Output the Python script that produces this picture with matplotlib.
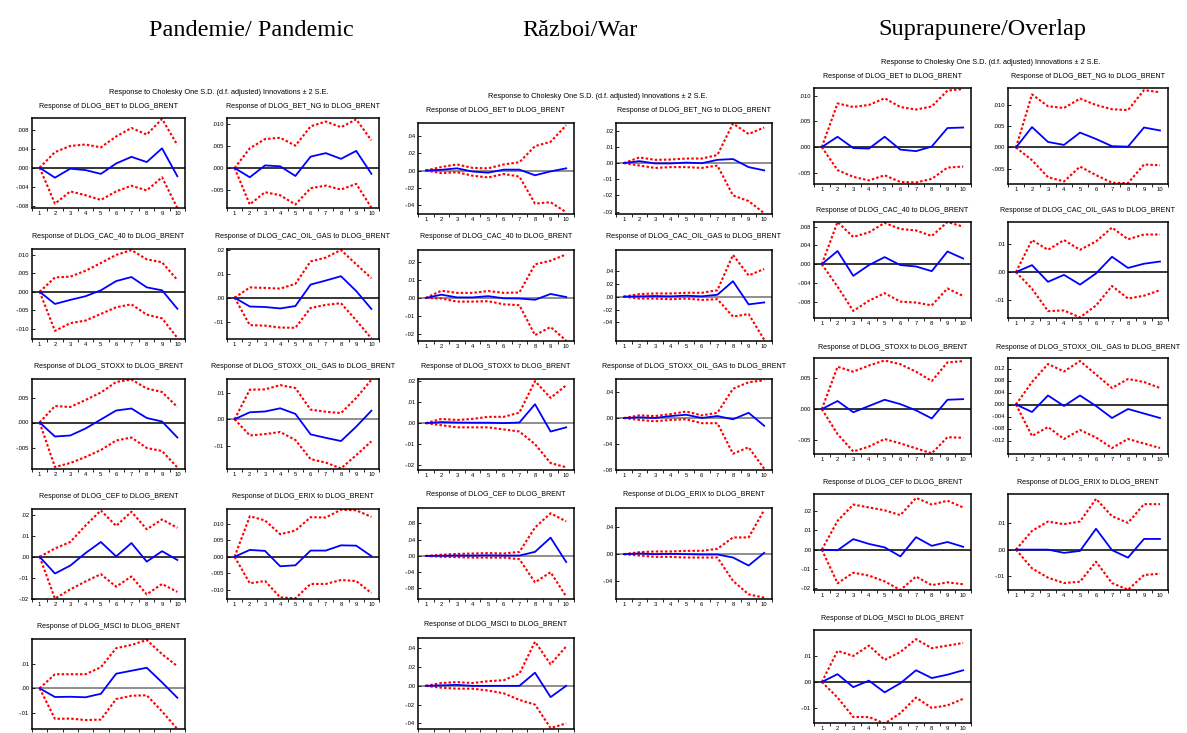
import matplotlib.pyplot as plt
import numpy as np

plt.rcParams['font.family'] = ['Liberation Sans', 'DejaVu Sans']

W, H = 1187, 733
horizons = np.arange(1, 11)

names = ["DLOG_BET", "DLOG_BET_NG", "DLOG_CAC_40", "DLOG_CAC_OIL_GAS", "DLOG_STOXX",
         "DLOG_STOXX_OIL_GAS", "DLOG_CEF", "DLOG_ERIX", "DLOG_MSCI"]
group_titles = ["Pandemie/ Pandemic", "Război/War", "Suprapunere/Overlap"]
shock_title = "Response to Cholesky One S.D. (d.f. adjusted) Innovations \u00b1 2 S.E."

# --- pandemic sample ---
pan_resp = [
    [0, -0.0021, -0.0002, -0.0005, -0.0013, 0.0009, 0.0023, 0.0012, 0.0041, -0.0018],
    [0, -0.0021, 0.0006, 0.0004, -0.0018, 0.0026, 0.0034, 0.0021, 0.0039, -0.0013],
    [0, -0.0033, -0.0022, -0.0012, 0.0004, 0.0029, 0.0040, 0.0012, 0.0004, -0.0046],
    [0, -0.0037, -0.0039, -0.0045, -0.0035, 0.0055, 0.0072, 0.0090, 0.0028, -0.0047],
    [0, -0.0028, -0.0026, -0.0012, 0.0006, 0.0024, 0.0028, 0.0009, 0.0002, -0.0030],
    [0, 0.0026, 0.0029, 0.0041, 0.0020, -0.0057, -0.0070, -0.0082, -0.0028, 0.0032],
    [0, -0.0080, -0.0042, 0.0018, 0.0071, 0.0002, 0.0066, -0.0023, 0.0027, -0.0015],
    [0, 0.0021, 0.0018, -0.0029, -0.0026, 0.0019, 0.0019, 0.0035, 0.0034, 0.0002],
    [0, -0.0035, -0.0034, -0.0036, -0.0022, 0.0059, 0.0071, 0.0083, 0.0024, -0.0038],
]
pan_hi = [
    [0, 0.0033, 0.0046, 0.0049, 0.0043, 0.0066, 0.0084, 0.0070, 0.0103, 0.0048],
    [0, 0.0045, 0.0066, 0.0069, 0.0051, 0.0095, 0.0106, 0.0093, 0.0111, 0.0063],
    [0, 0.0039, 0.0041, 0.0057, 0.0078, 0.0100, 0.0113, 0.0088, 0.0080, 0.0032],
    [0, 0.0043, 0.0041, 0.0038, 0.0058, 0.0152, 0.0168, 0.0200, 0.0140, 0.0082],
    [0, 0.0033, 0.0031, 0.0045, 0.0060, 0.0081, 0.0086, 0.0068, 0.0061, 0.0031],
    [0, 0.0111, 0.0112, 0.0128, 0.0117, 0.0036, 0.0028, 0.0023, 0.0080, 0.0148],
    [0, 0.0040, 0.0071, 0.0150, 0.0222, 0.0148, 0.0216, 0.0132, 0.0179, 0.0139],
    [0, 0.0124, 0.0111, 0.0069, 0.0080, 0.0121, 0.0120, 0.0144, 0.0142, 0.0122],
    [0, 0.0057, 0.0057, 0.0057, 0.0085, 0.0162, 0.0175, 0.0195, 0.0138, 0.0089],
]
pan_lo = [
    [0, -0.0076, -0.0050, -0.0058, -0.0068, -0.0050, -0.0038, -0.0048, -0.0020, -0.0085],
    [0, -0.0083, -0.0055, -0.0062, -0.0083, -0.0046, -0.0040, -0.0049, -0.0036, -0.0090],
    [0, -0.0106, -0.0085, -0.0078, -0.0060, -0.0042, -0.0034, -0.0062, -0.0072, -0.0125],
    [0, -0.0115, -0.0117, -0.0125, -0.0126, -0.0043, -0.0030, -0.0023, -0.0095, -0.0170],
    [0, -0.0089, -0.0081, -0.0069, -0.0055, -0.0036, -0.0030, -0.0051, -0.0057, -0.0090],
    [0, -0.0061, -0.0056, -0.0048, -0.0078, -0.0150, -0.0163, -0.0185, -0.0135, -0.0083],
    [0, -0.0200, -0.0156, -0.0118, -0.0083, -0.0143, -0.0094, -0.0180, -0.0130, -0.0168],
    [0, -0.0081, -0.0074, -0.0124, -0.0127, -0.0083, -0.0083, -0.0071, -0.0074, -0.0111],
    [0, -0.0123, -0.0122, -0.0128, -0.0126, -0.0043, -0.0030, -0.0028, -0.0093, -0.0164],
]
pan_ylim = [(-0.0085, 0.0105), (-0.0091, 0.0114), (-0.0128, 0.0116), (-0.0173, 0.0204),
            (-0.0093, 0.0087), (-0.0187, 0.0151), (-0.0202, 0.0229), (-0.0129, 0.0146),
            (-0.0164, 0.0199)]
pan_yticks = [[-0.008, -0.004, 0, 0.004, 0.008], [-0.005, 0, 0.005, 0.010],
              [-0.010, -0.005, 0, 0.005, 0.010], [-0.01, 0, 0.01, 0.02],
              [-0.005, 0, 0.005], [-0.01, 0, 0.01], [-0.02, -0.01, 0, 0.01, 0.02],
              [-0.010, -0.005, 0, 0.005, 0.010], [-0.01, 0, 0.01]]
pan_digits = [3, 3, 3, 2, 3, 2, 2, 3, 2]

# --- war sample ---
war_resp = [
    [0, 0.0008, 0.0025, -0.0012, -0.0025, 0.0010, 0.0010, -0.0055, -0.0010, 0.0025],
    [0, 0.0012, -0.0002, -0.0002, 0.0003, -0.0001, 0.0020, 0.0025, -0.0025, -0.0045],
    [0, 0.0018, 0.0003, 0.0003, 0.0010, -0.0002, -0.0003, -0.0010, 0.0022, 0.0005],
    [0, 0.0005, 0.0010, 0.0005, 0.0015, 0.0005, 0.0030, 0.0240, -0.0120, -0.0090],
    [0, 0.0005, 0.0003, 0.0002, 0.0002, 0.0000, 0.0003, 0.0090, -0.0040, -0.0020],
    [0, 0.0010, 0.0000, 0.0030, 0.0050, 0.0000, 0.0030, -0.0020, 0.0080, -0.0120],
    [0, 0.0005, 0.0010, 0.0010, 0.0015, 0.0010, 0.0010, 0.0100, 0.0450, -0.0150],
    [0, 0.0010, 0.0000, 0.0005, 0.0000, -0.0005, -0.0005, -0.0050, -0.0170, 0.0020],
    [0, 0.0005, 0.0010, 0.0000, 0.0000, 0.0000, 0.0000, 0.0140, -0.0120, 0.0000],
]
war_hi = [
    [0, 0.0040, 0.0070, 0.0030, 0.0025, 0.0070, 0.0095, 0.0280, 0.0330, 0.0520],
    [0, 0.0035, 0.0020, 0.0022, 0.0028, 0.0028, 0.0050, 0.0245, 0.0180, 0.0220],
    [0, 0.0040, 0.0028, 0.0028, 0.0038, 0.0028, 0.0030, 0.0185, 0.0205, 0.0240],
    [0, 0.0040, 0.0050, 0.0050, 0.0060, 0.0060, 0.0100, 0.0650, 0.0330, 0.0430],
    [0, 0.0020, 0.0015, 0.0020, 0.0030, 0.0030, 0.0050, 0.0200, 0.0120, 0.0180],
    [0, 0.0040, 0.0030, 0.0060, 0.0100, 0.0040, 0.0080, 0.0450, 0.0550, 0.0580],
    [0, 0.0030, 0.0050, 0.0060, 0.0070, 0.0060, 0.0100, 0.0700, 0.1050, 0.0850],
    [0, 0.0030, 0.0040, 0.0040, 0.0050, 0.0050, 0.0080, 0.0250, 0.0250, 0.0660],
    [0, 0.0030, 0.0040, 0.0030, 0.0050, 0.0060, 0.0130, 0.0470, 0.0230, 0.0420],
]
war_lo = [
    [0, -0.0030, -0.0020, -0.0060, -0.0080, -0.0040, -0.0070, -0.0380, -0.0365, -0.0480],
    [0, -0.0015, -0.0030, -0.0025, -0.0025, -0.0030, -0.0015, -0.0200, -0.0235, -0.0310],
    [0, -0.0003, -0.0020, -0.0020, -0.0018, -0.0035, -0.0040, -0.0205, -0.0160, -0.0235],
    [0, -0.0030, -0.0030, -0.0040, -0.0030, -0.0050, -0.0040, -0.0310, -0.0270, -0.0670],
    [0, -0.0010, -0.0020, -0.0020, -0.0020, -0.0030, -0.0040, -0.0100, -0.0190, -0.0210],
    [0, -0.0030, -0.0050, -0.0030, -0.0020, -0.0080, -0.0080, -0.0550, -0.0450, -0.0780],
    [0, -0.0020, -0.0030, -0.0040, -0.0040, -0.0040, -0.0080, -0.0650, -0.0400, -0.1000],
    [0, -0.0020, -0.0040, -0.0040, -0.0050, -0.0050, -0.0050, -0.0400, -0.0600, -0.0650],
    [0, -0.0020, -0.0030, -0.0030, -0.0050, -0.0080, -0.0150, -0.0200, -0.0450, -0.0400],
]
war_ylim = [(-0.050, 0.0546), (-0.0315, 0.0248), (-0.0237, 0.0264), (-0.069, 0.0726),
            (-0.0223, 0.0210), (-0.080, 0.060), (-0.106, 0.118), (-0.067, 0.069),
            (-0.046, 0.051)]
war_yticks = [[-0.04, -0.02, 0, 0.02, 0.04], [-0.03, -0.02, -0.01, 0, 0.01, 0.02],
              [-0.02, -0.01, 0, 0.01, 0.02], [-0.04, -0.02, 0, 0.02, 0.04],
              [-0.02, -0.01, 0, 0.01, 0.02], [-0.08, -0.04, 0, 0.04],
              [-0.08, -0.04, 0, 0.04, 0.08], [-0.04, 0, 0.04], [-0.04, -0.02, 0, 0.02, 0.04]]
war_digits = [2] * 9

# --- overlap sample ---
ovl_resp = [
    [0, 0.0020, -0.0002, -0.0003, 0.0020, -0.0005, -0.0008, 0.0001, 0.0037, 0.0038],
    [0, 0.0048, 0.0013, 0.0006, 0.0035, 0.0020, 0.0003, 0.0002, 0.0047, 0.0040],
    [0, 0.0028, -0.0025, -0.0002, 0.0015, -0.0002, -0.0005, -0.0015, 0.0027, 0.0012],
    [0, 0.0025, -0.0035, -0.0010, -0.0045, -0.0005, 0.0055, 0.0015, 0.0030, 0.0038],
    [0, 0.0013, -0.0005, 0.0005, 0.0015, 0.0008, -0.0002, -0.0015, 0.0015, 0.0016],
    [0, -0.0025, 0.0030, -0.0005, 0.0030, -0.0005, -0.0045, -0.0015, -0.0030, -0.0045],
    [0, -0.0003, 0.0055, 0.0030, 0.0012, -0.0035, 0.0065, 0.0020, 0.0040, 0.0015],
    [0, 0.0000, 0.0000, -0.0012, -0.0005, 0.0078, -0.0002, -0.0030, 0.0040, 0.0040],
    [0, 0.0030, -0.0020, 0.0005, -0.0040, -0.0005, 0.0045, 0.0015, 0.0028, 0.0045],
]
ovl_hi = [
    [0, 0.0085, 0.0078, 0.0082, 0.0095, 0.0078, 0.0073, 0.0079, 0.0110, 0.0113],
    [0, 0.0125, 0.0097, 0.0093, 0.0115, 0.0100, 0.0090, 0.0088, 0.0135, 0.0130],
    [0, 0.0090, 0.0058, 0.0068, 0.0088, 0.0075, 0.0072, 0.0060, 0.0090, 0.0080],
    [0, 0.0115, 0.0080, 0.0115, 0.0080, 0.0110, 0.0160, 0.0118, 0.0135, 0.0135],
    [0, 0.0068, 0.0060, 0.0070, 0.0078, 0.0072, 0.0060, 0.0045, 0.0075, 0.0077],
    [0, 0.0075, 0.0135, 0.0110, 0.0145, 0.0100, 0.0055, 0.0085, 0.0075, 0.0055],
    [0, 0.0150, 0.0235, 0.0220, 0.0205, 0.0180, 0.0270, 0.0235, 0.0255, 0.0220],
    [0, 0.0070, 0.0105, 0.0095, 0.0105, 0.0190, 0.0125, 0.0100, 0.0170, 0.0170],
    [0, 0.0120, 0.0100, 0.0140, 0.0085, 0.0115, 0.0165, 0.0130, 0.0140, 0.0150],
]
ovl_lo = [
    [0, -0.0045, -0.0058, -0.0065, -0.0055, -0.0068, -0.0069, -0.0062, -0.0040, -0.0038],
    [0, -0.0030, -0.0070, -0.0080, -0.0045, -0.0065, -0.0083, -0.0084, -0.0040, -0.0042],
    [0, -0.0048, -0.0100, -0.0078, -0.0062, -0.0080, -0.0082, -0.0088, -0.0052, -0.0068],
    [0, -0.0060, -0.0140, -0.0138, -0.0163, -0.0120, -0.0050, -0.0095, -0.0085, -0.0065],
    [0, -0.0040, -0.0068, -0.0060, -0.0048, -0.0055, -0.0063, -0.0071, -0.0045, -0.0046],
    [0, -0.0105, -0.0075, -0.0115, -0.0085, -0.0110, -0.0145, -0.0115, -0.0130, -0.0145],
    [0, -0.0175, -0.0120, -0.0135, -0.0165, -0.0210, -0.0140, -0.0185, -0.0170, -0.0180],
    [0, -0.0070, -0.0105, -0.0125, -0.0120, -0.0045, -0.0125, -0.0150, -0.0095, -0.0090],
    [0, -0.0060, -0.0135, -0.0135, -0.0160, -0.0120, -0.0060, -0.0100, -0.0090, -0.0065],
]
ovl_ylim = [(-0.0072, 0.0115), (-0.0086, 0.0140), (-0.0115, 0.0090), (-0.0165, 0.0180),
            (-0.0072, 0.0082), (-0.0165, 0.0155), (-0.0210, 0.0290), (-0.0151, 0.0208),
            (-0.0158, 0.0200)]
ovl_yticks = [[-0.005, 0, 0.005, 0.010], [-0.005, 0, 0.005, 0.010],
              [-0.008, -0.004, 0, 0.004, 0.008], [-0.01, 0, 0.01], [-0.005, 0, 0.005],
              [-0.012, -0.008, -0.004, 0, 0.004, 0.008, 0.012],
              [-0.02, -0.01, 0, 0.01, 0.02], [-0.01, 0, 0.01], [-0.01, 0, 0.01]]
ovl_digits = [3, 3, 3, 2, 3, 3, 2, 2, 2]

# pixel layout of each block: column edges, row tops, panel heights
layouts = [
    dict(cols=[(32, 185), (227, 379)], tops=[118, 249, 379, 509, 639],
         hts=[90, 90, 90, 90, 90], head=(251, 30), sup=(219, 92), gap=12,
         last_labels=False,
         zero=['k', 'k', 'k', 'k', 'k', '#707070', 'k', 'k', '#707070']),
    dict(cols=[(418, 574), (616, 772)], tops=[123, 250, 379, 508, 638],
         hts=[91, 91, 91, 91, 91], head=(580, 30), sup=(598, 96), gap=13,
         last_labels=False, zero=['#707070'] * 9),
    dict(cols=[(814, 971), (1008, 1168)], tops=[88, 222, 358, 494, 630],
         hts=[96, 96, 96, 96, 93], head=(982, 30), sup=(991, 62), gap=11,
         last_labels=True, zero=['k'] * 9),
]
blocks = [
    (pan_resp, pan_hi, pan_lo, pan_ylim, pan_yticks, pan_digits),
    (war_resp, war_hi, war_lo, war_ylim, war_yticks, war_digits),
    (ovl_resp, ovl_hi, ovl_lo, ovl_ylim, ovl_yticks, ovl_digits),
]

fig = plt.figure(figsize=(W / 100, H / 100), dpi=100)


def fx(x):
    return x / W


def fy(y):
    return 1 - y / H


def tick_text(v, nd):
    return f"{v:.{nd}f}".replace("0.", ".", 1)


for g, (lay, data) in enumerate(zip(layouts, blocks)):
    resp, hi, lo, ylims, yticks, digits = data
    fig.text(fx(lay['head'][0]), fy(lay['head'][1]), group_titles[g],
             family='Liberation Serif', fontsize=17.5, ha='center', va='center')
    fig.text(fx(lay['sup'][0]), fy(lay['sup'][1]), shock_title,
             fontsize=5.3, ha='center', va='center')
    for i in range(9):
        r, c = divmod(i, 2)
        x0, x1 = lay['cols'][c]
        top = lay['tops'][r]
        bottom = min(top + lay['hts'][r], 729)
        ax = fig.add_axes([fx(x0), fy(bottom), fx(x1 - x0), (bottom - top) / H])
        ax.axhline(0, color=lay['zero'][i], lw=1.1, zorder=1)
        ax.plot(horizons, hi[i], color='red', lw=1.5, ls=(0, (1.2, 1.0)), zorder=2)
        ax.plot(horizons, lo[i], color='red', lw=1.5, ls=(0, (1.2, 1.0)), zorder=2)
        ax.plot(horizons, resp[i], color='blue', lw=1.3, zorder=3)
        ax.set_xlim(0.5, 10.5)
        ax.set_ylim(*ylims[i])
        ax.set_xticks(np.arange(0.5, 11, 1))
        ax.set_xticklabels([])
        # bottom-row panels in the first two blocks run off the page edge
        if r < 4 or lay['last_labels']:
            ax.set_xticks(horizons, minor=True)
            ax.set_xticklabels([str(h) for h in horizons], minor=True)
        ax.tick_params(axis='x', which='major', direction='out', length=2.5, width=0.6)
        ax.tick_params(axis='x', which='minor', length=0, labelsize=4.2, pad=2.5)
        ax.set_yticks(yticks[i])
        ax.set_yticklabels([tick_text(v, digits[i]) for v in yticks[i]])
        ax.tick_params(axis='y', direction='in', length=2, width=0.6,
                       labelsize=4.2, pad=2)
        for s in ax.spines.values():
            s.set_linewidth(1.1)
        fig.text(fx((x0 + x1) / 2), fy(top - lay['gap']),
                 f"Response of {names[i]} to DLOG_BRENT",
                 fontsize=5.1, ha='center', va='center')

fig.savefig("out.png", dpi=100)
